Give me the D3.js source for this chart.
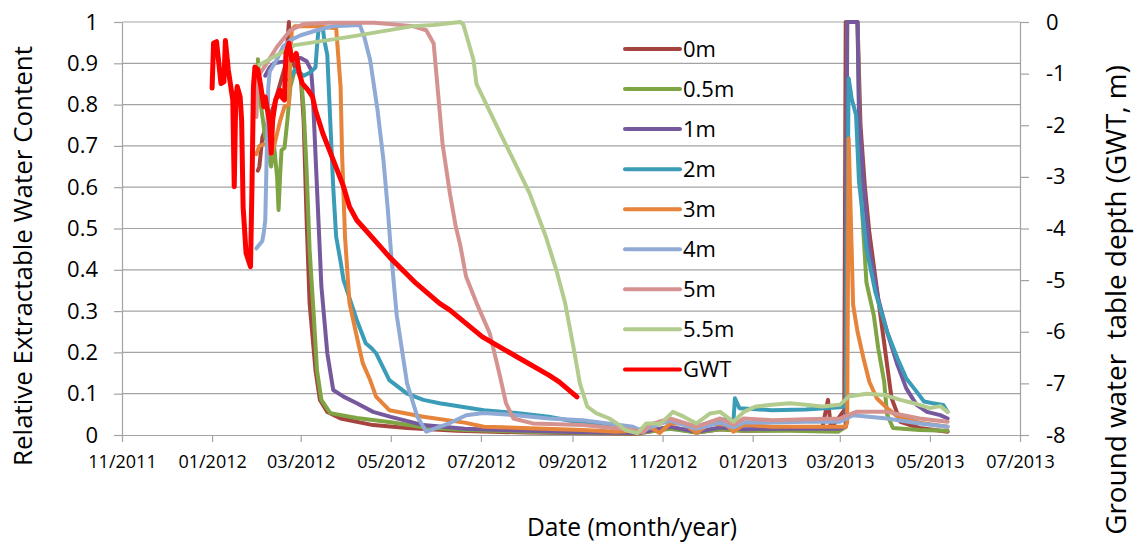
<!DOCTYPE html>
<html>
<head>
<meta charset="utf-8">
<script src="https://cdn.jsdelivr.net/npm/d3@7"></script>
<style>
  html, body { margin: 0; padding: 0; background: #fff; }
  svg { display: block; }
  text { font-family: "Open Sans", "Liberation Sans", sans-serif; fill: #000; }
</style>
</head>
<body>
<svg id="chart" width="1135" height="543"></svg>
<script>
// Soil water content (relative extractable water) at each depth, and ground water table depth
const s0m = [["2012-02-01",0.64],["2012-02-02",0.65],["2012-02-04",0.72],["2012-02-05",0.73],["2012-02-08",0.76],["2012-02-12",0.80],["2012-02-16",0.85],["2012-02-20",0.90],["2012-02-22",1.0],["2012-02-23",0.92],["2012-02-26",0.89],["2012-03-01",0.87],["2012-03-03",0.76],["2012-03-05",0.52],["2012-03-07",0.32],["2012-03-11",0.157],["2012-03-14",0.085],["2012-03-19",0.056],["2012-03-28",0.04],["2012-04-19",0.024],["2012-05-12",0.017],["2012-06-15",0.01],["2012-08-01",0.006],["2012-09-15",0.004],["2012-10-15",0.003],["2012-11-06",0.018],["2012-11-24",0.006],["2012-12-10",0.014],["2012-12-26",0.01],["2013-01-26",0.012],["2013-02-17",0.014],["2013-02-21",0.085],["2013-02-23",0.016],["2013-03-04",0.06],["2013-03-05",1.0],["2013-03-13",1.0],["2013-03-15",0.75],["2013-03-18",0.60],["2013-03-21",0.49],["2013-03-27",0.33],["2013-04-02",0.17],["2013-04-05",0.09],["2013-04-11",0.032],["2013-04-24",0.017],["2013-05-13",0.008]];
const s05m = [["2012-02-01",0.91],["2012-02-03",0.80],["2012-02-06",0.72],["2012-02-08",0.70],["2012-02-09",0.666],["2012-02-10",0.65],["2012-02-12",0.70],["2012-02-14",0.625],["2012-02-15",0.545],["2012-02-16",0.625],["2012-02-17",0.69],["2012-02-19",0.695],["2012-02-21",0.763],["2012-02-23",0.843],["2012-02-26",0.884],["2012-03-01",0.876],["2012-03-03",0.79],["2012-03-05",0.64],["2012-03-07",0.45],["2012-03-10",0.28],["2012-03-12",0.157],["2012-03-15",0.085],["2012-03-21",0.053],["2012-04-08",0.041],["2012-05-01",0.031],["2012-05-23",0.019],["2012-06-20",0.012],["2012-08-01",0.008],["2012-09-15",0.005],["2012-10-15",0.004],["2012-11-06",0.015],["2012-11-24",0.006],["2012-12-10",0.014],["2012-12-26",0.01],["2013-01-26",0.01],["2013-02-28",0.008],["2013-03-05",0.02],["2013-03-06",1.0],["2013-03-13",1.0],["2013-03-14",0.80],["2013-03-16",0.55],["2013-03-19",0.37],["2013-03-24",0.29],["2013-03-27",0.21],["2013-03-31",0.13],["2013-04-02",0.05],["2013-04-06",0.017],["2013-04-24",0.012],["2013-05-13",0.01]];
const s1m = [["2012-02-06",0.87],["2012-02-09",0.89],["2012-02-12",0.90],["2012-02-18",0.904],["2012-02-25",0.91],["2012-03-01",0.913],["2012-03-05",0.905],["2012-03-08",0.884],["2012-03-09",0.84],["2012-03-12",0.60],["2012-03-15",0.36],["2012-03-19",0.198],["2012-03-23",0.109],["2012-03-30",0.093],["2012-04-08",0.077],["2012-04-19",0.056],["2012-05-01",0.044],["2012-05-23",0.024],["2012-06-20",0.015],["2012-08-01",0.01],["2012-09-15",0.006],["2012-10-15",0.005],["2012-11-06",0.02],["2012-11-24",0.008],["2012-12-10",0.018],["2012-12-26",0.014],["2013-01-26",0.016],["2013-02-28",0.015],["2013-03-05",0.02],["2013-03-06",1.0],["2013-03-13",1.0],["2013-03-14",0.775],["2013-03-17",0.613],["2013-03-21",0.452],["2013-03-27",0.33],["2013-04-02",0.25],["2013-04-09",0.17],["2013-04-15",0.113],["2013-04-22",0.073],["2013-04-29",0.056],["2013-05-08",0.048],["2013-05-13",0.04]];
const s2m = [["2012-02-22",0.86],["2012-02-26",0.884],["2012-03-03",0.87],["2012-03-07",0.877],["2012-03-11",0.89],["2012-03-12",0.94],["2012-03-13",0.98],["2012-03-16",0.985],["2012-03-17",0.956],["2012-03-19",0.92],["2012-03-21",0.76],["2012-03-23",0.60],["2012-03-25",0.48],["2012-03-28",0.42],["2012-03-30",0.375],["2012-04-02",0.343],["2012-04-05",0.31],["2012-04-08",0.278],["2012-04-11",0.25],["2012-04-14",0.222],["2012-04-18",0.21],["2012-04-21",0.198],["2012-04-30",0.133],["2012-05-12",0.10],["2012-05-23",0.085],["2012-06-03",0.077],["2012-07-03",0.06],["2012-07-25",0.053],["2012-08-16",0.044],["2012-09-08",0.029],["2012-10-01",0.02],["2012-10-15",0.01],["2012-10-23",0.025],["2012-11-06",0.035],["2012-11-24",0.02],["2012-12-10",0.038],["2012-12-19",0.035],["2012-12-20",0.089],["2012-12-23",0.065],["2013-01-14",0.06],["2013-02-06",0.062],["2013-03-01",0.067],["2013-03-05",0.07],["2013-03-07",0.864],["2013-03-09",0.815],["2013-03-12",0.775],["2013-03-14",0.613],["2013-03-19",0.452],["2013-03-25",0.347],["2013-04-02",0.25],["2013-04-09",0.186],["2013-04-15",0.137],["2013-04-22",0.105],["2013-04-27",0.081],["2013-05-03",0.077],["2013-05-10",0.073],["2013-05-13",0.056]];
const s3m = [["2012-01-31",0.68],["2012-02-02",0.70],["2012-02-07",0.706],["2012-02-10",0.68],["2012-02-12",0.70],["2012-02-16",0.76],["2012-02-19",0.795],["2012-02-22",0.80],["2012-02-23",0.92],["2012-02-24",0.98],["2012-02-26",0.99],["2012-03-10",0.99],["2012-03-25",0.985],["2012-03-28",0.843],["2012-03-29",0.68],["2012-03-31",0.48],["2012-04-03",0.32],["2012-04-08",0.238],["2012-04-12",0.174],["2012-04-17",0.133],["2012-04-21",0.093],["2012-04-30",0.06],["2012-05-23",0.044],["2012-06-20",0.03],["2012-07-03",0.02],["2012-09-08",0.012],["2012-10-01",0.008],["2012-10-19",0.012],["2012-10-23",0.02],["2012-10-30",0.005],["2012-11-06",0.028],["2012-11-15",0.028],["2012-11-24",0.005],["2012-12-03",0.028],["2012-12-14",0.025],["2012-12-19",0.008],["2012-12-26",0.025],["2013-01-14",0.02],["2013-02-06",0.02],["2013-03-05",0.02],["2013-03-06",0.03],["2013-03-07",0.718],["2013-03-09",0.452],["2013-03-10",0.315],["2013-03-13",0.25],["2013-03-17",0.186],["2013-03-21",0.129],["2013-03-26",0.089],["2013-04-02",0.065],["2013-04-09",0.045],["2013-04-24",0.03],["2013-05-13",0.02]];
const s4m = [["2012-01-31",0.452],["2012-02-04",0.47],["2012-02-05",0.49],["2012-02-06",0.52],["2012-02-07",0.68],["2012-02-08",0.84],["2012-02-09",0.88],["2012-02-14",0.91],["2012-02-18",0.94],["2012-02-23",0.956],["2012-03-01",0.968],["2012-03-12",0.98],["2012-03-23",0.99],["2012-04-10",0.993],["2012-04-13",0.964],["2012-04-17",0.908],["2012-04-19",0.86],["2012-04-22",0.787],["2012-04-26",0.666],["2012-04-29",0.545],["2012-05-01",0.448],["2012-05-05",0.29],["2012-05-12",0.125],["2012-05-19",0.044],["2012-05-25",0.008],["2012-06-10",0.029],["2012-06-21",0.048],["2012-07-03",0.053],["2012-07-25",0.048],["2012-08-16",0.04],["2012-09-08",0.036],["2012-10-12",0.02],["2012-10-19",0.008],["2012-10-23",0.018],["2012-11-06",0.035],["2012-11-24",0.015],["2012-12-10",0.03],["2012-12-19",0.018],["2012-12-26",0.03],["2013-01-14",0.03],["2013-02-06",0.032],["2013-03-01",0.032],["2013-03-10",0.048],["2013-04-02",0.04],["2013-04-24",0.028],["2013-05-13",0.02]];
const s5m = [["2012-01-31",0.77],["2012-02-01",0.868],["2012-02-07",0.90],["2012-02-14",0.94],["2012-02-23",0.98],["2012-03-03",0.995],["2012-03-20",0.998],["2012-04-20",0.998],["2012-05-16",0.99],["2012-05-25",0.98],["2012-05-30",0.948],["2012-06-01",0.868],["2012-06-05",0.706],["2012-06-10",0.585],["2012-06-14",0.504],["2012-06-17",0.46],["2012-06-21",0.383],["2012-06-28",0.32],["2012-07-07",0.246],["2012-07-14",0.141],["2012-07-18",0.077],["2012-07-23",0.04],["2012-08-05",0.028],["2012-09-08",0.024],["2012-10-12",0.012],["2012-10-19",0.006],["2012-10-23",0.025],["2012-11-06",0.04],["2012-11-24",0.02],["2012-12-10",0.04],["2012-12-19",0.025],["2012-12-26",0.04],["2013-01-14",0.036],["2013-02-06",0.038],["2013-03-01",0.04],["2013-03-12",0.056],["2013-04-02",0.056],["2013-04-24",0.04],["2013-05-13",0.032]];
const s55m = [["2012-02-02",0.896],["2012-02-26",0.944],["2012-04-03",0.964],["2012-05-16",0.99],["2012-05-30",0.993],["2012-06-17",1.0],["2012-06-19",0.995],["2012-06-26",0.908],["2012-06-28",0.85],["2012-07-12",0.746],["2012-07-23",0.666],["2012-08-03",0.585],["2012-08-14",0.48],["2012-08-21",0.40],["2012-08-27",0.32],["2012-09-02",0.206],["2012-09-06",0.125],["2012-09-11",0.069],["2012-09-17",0.053],["2012-09-26",0.04],["2012-10-01",0.028],["2012-10-07",0.012],["2012-10-15",0.004],["2012-10-21",0.028],["2012-10-28",0.028],["2012-10-30",0.025],["2012-11-08",0.056],["2012-11-15",0.045],["2012-11-24",0.028],["2012-12-03",0.052],["2012-12-10",0.056],["2012-12-19",0.032],["2012-12-26",0.056],["2013-01-03",0.069],["2013-01-14",0.073],["2013-01-26",0.077],["2013-02-06",0.073],["2013-02-17",0.069],["2013-03-01",0.073],["2013-03-07",0.093],["2013-03-19",0.1],["2013-03-31",0.097],["2013-04-11",0.085],["2013-04-20",0.077],["2013-05-01",0.065],["2013-05-08",0.07],["2013-05-13",0.056]];
// Ground water table depth (m, negative below surface), right axis
const gwt = [["2012-01-01",-1.28],["2012-01-02",-0.41],["2012-01-04",-0.38],["2012-01-07",-1.19],["2012-01-09",-1.16],["2012-01-10",-0.36],["2012-01-12",-0.93],["2012-01-14",-1.32],["2012-01-15",-1.51],["2012-01-16",-3.19],["2012-01-17",-1.51],["2012-01-18",-1.25],["2012-01-20",-1.45],["2012-01-21",-1.90],["2012-01-22",-3.58],["2012-01-24",-4.48],["2012-01-27",-4.74],["2012-01-28",-3.19],["2012-01-29",-1.25],["2012-01-30",-0.87],["2012-02-01",-0.93],["2012-02-03",-1.25],["2012-02-05",-1.64],["2012-02-06",-1.45],["2012-02-09",-1.96],["2012-02-10",-2.54],["2012-02-11",-1.90],["2012-02-13",-1.51],["2012-02-16",-1.32],["2012-02-17",-1.45],["2012-02-19",-1.51],["2012-02-20",-0.61],["2012-02-22",-0.41],["2012-02-24",-0.74],["2012-02-27",-0.61],["2012-02-29",-0.99],["2012-03-02",-1.19],["2012-03-06",-1.32],["2012-03-09",-1.45],["2012-03-11",-1.71],["2012-03-16",-2.16],["2012-03-23",-2.67],["2012-03-30",-3.19],["2012-04-03",-3.58],["2012-04-08",-3.84],["2012-04-26",-4.42],["2012-04-30",-4.55],["2012-05-18",-5.06],["2012-06-03",-5.45],["2012-06-10",-5.58],["2012-07-02",-6.10],["2012-07-25",-6.48],["2012-08-16",-6.84],["2012-08-23",-6.97],["2012-09-04",-7.26]];

const seriesNames = ["0m", "0.5m", "1m", "2m", "3m", "4m", "5m", "5.5m", "GWT"];
const seriesColors = ["#A5443F", "#7FA443", "#76599D", "#3B9CB7", "#E5843A", "#8FAAD5", "#D49391", "#B3CC8E", "#FF0000"];

const leftTicks = [0, 0.1, 0.2, 0.3, 0.4, 0.5, 0.6, 0.7, 0.8, 0.9, 1];
const rightTicks = [0, -1, -2, -3, -4, -5, -6, -7, -8];
const dateTicks = ["2011-11-01", "2012-01-01", "2012-03-01", "2012-05-01", "2012-07-01", "2012-09-01", "2012-11-01", "2013-01-01", "2013-03-01", "2013-05-01", "2013-07-01"];

const parse = d3.timeParse("%Y-%m-%d");
const svg = d3.select("#chart");
const L = 122, R = 1020, T = 22, B = 435;
const gridColor = "#A3A3A3";

const x = d3.scaleTime().domain([parse("2011-11-01"), parse("2013-07-01")]).range([L, R]);
const yL = d3.scaleLinear().domain([0, 1]).range([B, T]);
const yR = d3.scaleLinear().domain([-8, 0]).range([B, T]);

// horizontal gridlines
svg.append("g").selectAll("line").data(leftTicks.filter(d => d > 0)).join("line")
  .attr("x1", L).attr("x2", R)
  .attr("y1", d => yL(d)).attr("y2", d => yL(d))
  .attr("stroke", gridColor).attr("stroke-width", 1.2);

function styleAxis(g) {
  g.select(".domain").attr("stroke", gridColor).attr("stroke-width", 1.2);
  g.selectAll(".tick line").attr("stroke", gridColor).attr("stroke-width", 1.2);
  g.selectAll("text").attr("fill", "#000").style("font-family", '"Open Sans", sans-serif');
}

const fmtLeft = d => d === 0 ? "0" : d === 1 ? "1" : d.toFixed(1);
svg.append("g").attr("transform", `translate(${L},0)`)
  .call(d3.axisLeft(yL).tickValues(leftTicks).tickFormat(fmtLeft).tickSize(8).tickSizeOuter(0).tickPadding(16))
  .call(styleAxis)
  .call(g => g.selectAll("text").attr("font-size", 22));

svg.append("g").attr("transform", `translate(${R},0)`)
  .call(d3.axisRight(yR).tickValues(rightTicks).tickFormat(d => String(d)).tickSize(9).tickSizeOuter(0).tickPadding(17))
  .call(styleAxis)
  .call(g => g.selectAll("text").attr("font-size", 22));

svg.append("g").attr("transform", `translate(0,${B})`)
  .call(d3.axisBottom(x).tickValues(dateTicks.map(parse)).tickFormat(d3.timeFormat("%m/%Y")).tickSize(7).tickSizeOuter(0).tickPadding(13))
  .call(styleAxis)
  .call(g => g.selectAll("text").attr("font-size", 18));

// data lines
const soil = [s0m, s05m, s1m, s2m, s3m, s4m, s5m, s55m];
const lineL = d3.line().x(d => x(parse(d[0]))).y(d => yL(d[1]));
const lineR = d3.line().x(d => x(parse(d[0]))).y(d => yR(d[1]));

svg.append("g").selectAll("path").data(soil).join("path")
  .attr("d", d => lineL(d))
  .attr("fill", "none")
  .attr("stroke", (d, i) => seriesColors[i])
  .attr("stroke-width", 4)
  .attr("stroke-linejoin", "round").attr("stroke-linecap", "round");

svg.append("path").attr("d", lineR(gwt))
  .attr("fill", "none").attr("stroke", seriesColors[8])
  .attr("stroke-width", 5).attr("stroke-linejoin", "round").attr("stroke-linecap", "round");

// legend
const lg = svg.append("g").selectAll("g").data(seriesNames).join("g")
  .attr("transform", (d, i) => `translate(625,${49 + i * 40.05})`);
lg.append("line").attr("x1", 0).attr("x2", 55).attr("y1", 0).attr("y2", 0)
  .attr("stroke", (d, i) => seriesColors[i]).attr("stroke-width", 4).attr("stroke-linecap", "round");
lg.append("text").attr("x", 58).attr("y", 8).attr("font-size", 22).text(d => d);

// axis titles, sized to span their measured lengths
function fit(sel, target) {
  const len = sel.node().getComputedTextLength();
  const fs = parseFloat(sel.attr("font-size"));
  sel.attr("font-size", fs * target / len);
}
const tl = svg.append("text").attr("font-size", 22).attr("text-anchor", "middle")
  .attr("transform", "translate(32,256) rotate(-90)")
  .text("Relative Extractable Water Content");
fit(tl, 420);
const tr = svg.append("text").attr("font-size", 22).attr("text-anchor", "middle")
  .style("white-space", "pre")
  .attr("transform", "translate(1126,300) rotate(-90)")
  .text("Ground water  table depth (GWT, m)");
fit(tr, 470);
const tx = svg.append("text").attr("font-size", 22).attr("text-anchor", "middle")
  .attr("x", 632).attr("y", 536)
  .text("Date (month/year)");
fit(tx, 210);
</script>
</body>
</html>
